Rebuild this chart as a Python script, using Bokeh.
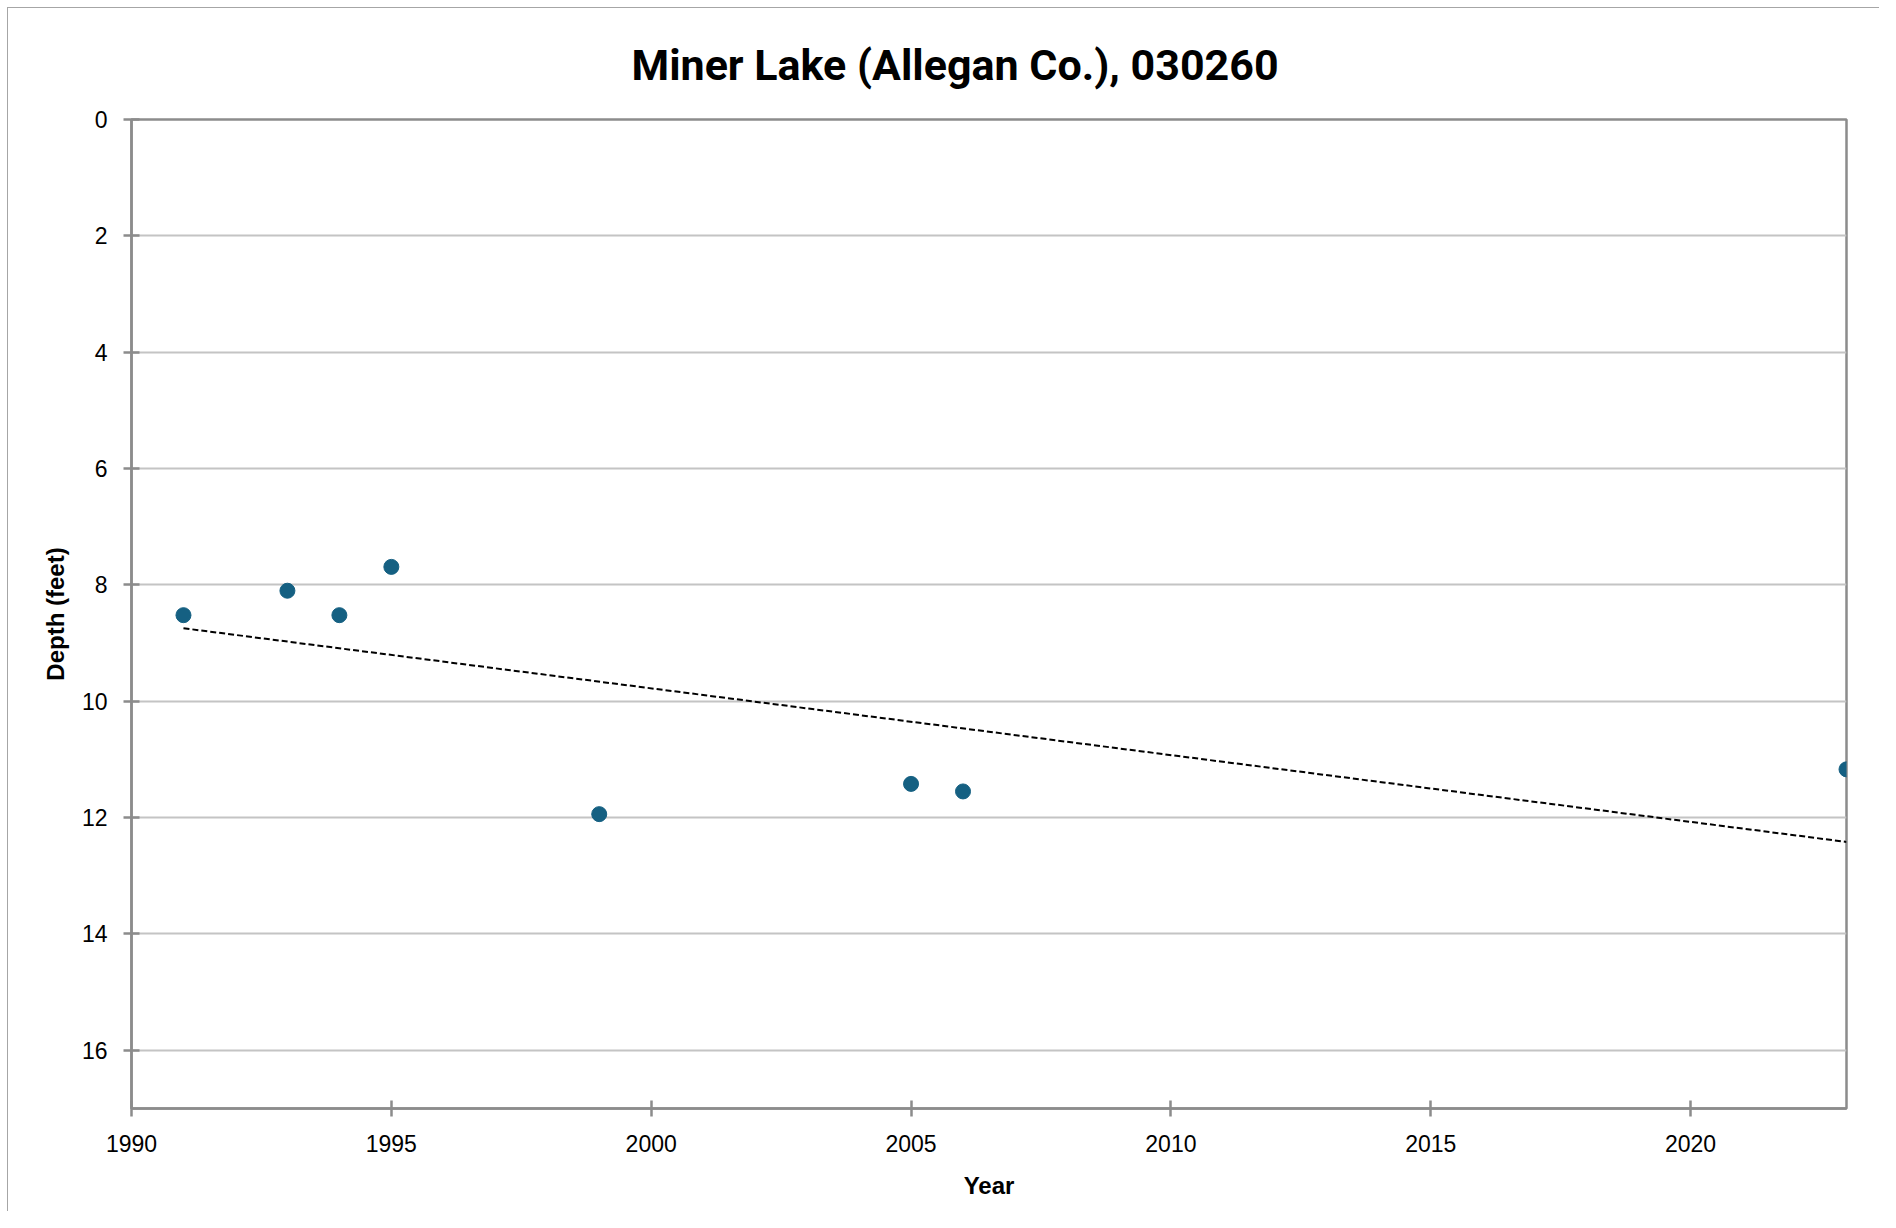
import numpy as np
from bokeh.plotting import figure
from bokeh.models import ColumnDataSource, FixedTicker, Range1d, Title
from bokeh.embed import file_html
from bokeh.resources import INLINE

# ---- data ----
title_text = "Miner Lake (Allegan Co.), 030260"
years = [1991, 1993, 1994, 1995, 1999, 2005, 2006, 2023]
depths = [8.52, 8.10, 8.52, 7.69, 11.94, 11.42, 11.55, 11.17]
x_ticks = [1990, 1995, 2000, 2005, 2010, 2015, 2020]
y_ticks = [0, 2, 4, 6, 8, 10, 12, 14, 16]
x_label = "Year"
y_label = "Depth (feet)"

# linear trend (least squares) over the data span
slope, intercept = np.polyfit(years, depths, 1)
trend_x = [min(years), max(years)]
trend_y = [slope * v + intercept for v in trend_x]

W, H = 1872, 1204
FL, FR, FT, FB = 123, 1838, 111, 1100

p = figure(width=W, height=H, output_backend="svg", toolbar_location=None,
           x_range=Range1d(1990, 2023), y_range=Range1d(17, 0),
           min_border_left=FL, min_border_right=W - FR,
           min_border_top=FT, min_border_bottom=H - FB,
           background_fill_color="white", border_fill_color="white",
           styles={"border-left": "1px solid #a6a6a6", "border-top": "1px solid #a6a6a6",
                   "margin-left": "7px", "margin-top": "7px"})

p.add_layout(Title(text=title_text, align="left", offset=500, standoff=59,
                   vertical_align="bottom",
                   text_font="Roboto", text_font_style="bold",
                   text_font_size="43px", text_color="#000000"), "above")

axis_color = "#8c8c8c"
p.outline_line_color = axis_color
p.outline_line_width = 2.5

p.xgrid.visible = False
p.ygrid.ticker = FixedTicker(ticks=y_ticks)
p.ygrid.grid_line_color = "#c4c4c4"
p.ygrid.grid_line_width = 2

p.xaxis.ticker = FixedTicker(ticks=x_ticks)
p.yaxis.ticker = FixedTicker(ticks=y_ticks)
p.xaxis.minor_tick_line_color = None
p.yaxis.minor_tick_line_color = None

for ax in (p.xaxis, p.yaxis):
    ax.axis_line_color = axis_color
    ax.axis_line_width = 2.5
    ax.major_tick_line_color = axis_color
    ax.major_tick_line_width = 2.5
    ax.major_tick_in = 8
    ax.major_tick_out = 8
    ax.major_label_text_font = "Liberation Sans"
    ax.major_label_text_font_size = "23px"
    ax.major_label_text_color = "#000000"
    ax.axis_label_text_font = "Liberation Sans"
    ax.axis_label_text_font_size = "24px"
    ax.axis_label_text_font_style = "bold"
    ax.axis_label_text_color = "#000000"

p.xaxis.axis_label = x_label
p.yaxis.axis_label = y_label
p.xaxis.major_label_standoff = 18
p.xaxis.axis_label_standoff = 17
p.yaxis.major_label_standoff = 16
p.yaxis.axis_label_standoff = 10

src = ColumnDataSource(dict(x=years, y=depths))
p.line(trend_x, trend_y, line_color="black", line_width=2, line_dash="6 3")
p.scatter("x", "y", source=src, size=15, fill_color="#156082", line_color="#156082")

open("out.html", "w").write(file_html(p, INLINE))
